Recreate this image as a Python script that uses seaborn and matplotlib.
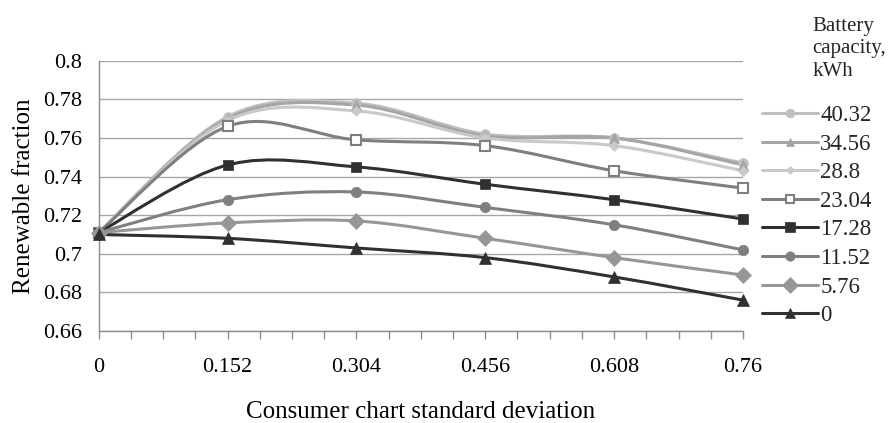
import numpy as np
import pandas as pd
import matplotlib
matplotlib.use("Agg")
import matplotlib.pyplot as plt
import seaborn as sns
from matplotlib.path import Path
from matplotlib.patches import PathPatch
from matplotlib.lines import Line2D
from matplotlib.ticker import MultipleLocator, FixedLocator, NullFormatter

# ---------------- data ----------------
std_dev = [0, 0.152, 0.304, 0.456, 0.608, 0.76]
x_tick_labels = ["0", "0.152", "0.304", "0.456", "0.608", "0.76"]
y_ticks = [0.66, 0.68, 0.70, 0.72, 0.74, 0.76, 0.78, 0.80]
y_tick_labels = ["0.66", "0.68", "0.7", "0.72", "0.74", "0.76", "0.78", "0.8"]
capacities = ["40.32", "34.56", "28.8", "23.04", "17.28", "11.52", "5.76", "0"]
legend_title_lines = ["Battery", "capacity,", "kWh"]

rf_40_32 = [0.711, 0.771, 0.778, 0.762, 0.760, 0.747]
rf_34_56 = [0.711, 0.770, 0.777, 0.761, 0.760, 0.746]
rf_28_8 = [0.711, 0.769, 0.774, 0.760, 0.756, 0.743]
rf_23_04 = [0.711, 0.766, 0.759, 0.756, 0.743, 0.734]
rf_17_28 = [0.711, 0.746, 0.745, 0.736, 0.728, 0.718]
rf_11_52 = [0.711, 0.728, 0.732, 0.724, 0.715, 0.702]
rf_5_76 = [0.711, 0.716, 0.717, 0.708, 0.698, 0.689]
rf_0 = [0.710, 0.708, 0.703, 0.698, 0.688, 0.676]

series = [rf_40_32, rf_34_56, rf_28_8, rf_23_04, rf_17_28, rf_11_52, rf_5_76, rf_0]

# ---------------- styles ----------------
styles = [
    dict(color="#BFBFBF", marker="o", ms=7.0, mfc="#BFBFBF"),
    dict(color="#A5A5A5", marker="^", ms=7.0, mfc="#A5A5A5"),
    dict(color="#C9C9C9", marker="D", ms=5.0, mfc="#C9C9C9"),
    dict(color="#7F7F7F", marker="s", ms=6.5, mfc="white"),
    dict(color="#303030", marker="s", ms=7.5, mfc="#303030"),
    dict(color="#7F7F7F", marker="o", ms=7.5, mfc="#7F7F7F"),
    dict(color="#969696", marker="D", ms=8.5, mfc="#969696"),
    dict(color="#303030", marker="^", ms=8.5, mfc="#303030"),
]
LW = 2.2

sns.set_theme(style="white")
plt.rcParams["font.family"] = ["Liberation Serif", "DejaVu Serif"]

fig = plt.figure(figsize=(8.91, 4.23), dpi=100)
ax = fig.add_axes([98.7 / 891, 1 - 331 / 423, (743 - 98.7) / 891, (331 - 60.7) / 423])


def smooth_path(xs, ys):
    xs = np.asarray(xs, float)
    ys = np.asarray(ys, float)
    n = len(xs)
    pts = np.column_stack([xs, ys])
    verts = [tuple(pts[0])]
    codes = [Path.MOVETO]
    for i in range(n - 1):
        p0 = pts[i - 1] if i > 0 else pts[i]
        p1 = pts[i]
        p2 = pts[i + 1]
        p3 = pts[i + 2] if i + 2 < n else pts[i + 1]
        c1 = p1 + (p2 - p0) / 6.0
        c2 = p2 - (p3 - p1) / 6.0
        verts += [tuple(c1), tuple(c2), tuple(p2)]
        codes += [Path.CURVE4] * 3
    return Path(verts, codes)


records = []
for cap, vals in zip(capacities, series):
    for xv, yv in zip(std_dev, vals):
        records.append(dict(capacity=cap, x=xv, y=yv))
df = pd.DataFrame(records)

for z, (cap, st) in enumerate(zip(capacities, styles)):
    sub = df[df["capacity"] == cap]
    patch = PathPatch(smooth_path(sub["x"], sub["y"]), facecolor="none",
                      edgecolor=st["color"], lw=LW, zorder=3 + z * 0.1,
                      capstyle="round", joinstyle="round")
    ax.add_patch(patch)
    sns.lineplot(data=sub, x="x", y="y", ax=ax, linestyle="none",
                 marker=st["marker"], markersize=st["ms"], color=st["color"],
                 markerfacecolor=st["mfc"], markeredgecolor=st["color"],
                 markeredgewidth=1.5 if st["mfc"] == "white" else 0.5,
                 legend=False, zorder=4 + z * 0.1, clip_on=False)

ax.set_xlim(0, 0.76)
ax.set_ylim(0.66, 0.80)
ax.xaxis.set_major_locator(FixedLocator(std_dev))
ax.set_xticklabels(x_tick_labels)
ax.xaxis.set_minor_locator(MultipleLocator(0.038))
ax.xaxis.set_minor_formatter(NullFormatter())
ax.set_yticks(y_ticks)
ax.set_yticklabels(y_tick_labels)

ax.grid(axis="y", color="#A6A6A6", lw=1.0)
ax.grid(axis="x", visible=False)
ax.set_axisbelow(True)
for s in ["top", "right"]:
    ax.spines[s].set_visible(False)
for s in ["left", "bottom"]:
    ax.spines[s].set_color("#8C8C8C")
    ax.spines[s].set_linewidth(1.0)

ax.tick_params(axis="x", which="both", direction="out", length=5.5, width=1.0,
               color="#8C8C8C", bottom=True, labelsize=16, pad=14, labelcolor="black")
ax.tick_params(axis="y", which="both", length=0, labelsize=16, pad=12, labelcolor="black")

ax.set_xlabel("Consumer chart standard deviation", fontsize=18, labelpad=17, color="black")
ax.set_ylabel("Renewable fraction", fontsize=18, labelpad=6, color="black")

handles = [Line2D([0], [0], color=st["color"], lw=LW, marker=st["marker"],
                  markersize=st["ms"] * 0.9, markerfacecolor=st["mfc"],
                  markeredgecolor=st["color"],
                  markeredgewidth=1.5 if st["mfc"] == "white" else 0.5)
           for st in styles]
fig.legend(handles, capacities, loc="upper left",
           bbox_to_anchor=(762 / 891, 1 - 105 / 423), frameon=False,
           fontsize=16.5, handlelength=2.44, handletextpad=0.1,
           labelspacing=0.33, borderaxespad=0, borderpad=0)
for i, line in enumerate(legend_title_lines):
    fig.text(812.5 / 891, 1 - (30.7 + 22.5 * i) / 423, line, ha="left",
             va="baseline", fontsize=15)

fig.savefig("out.png", dpi=100)
